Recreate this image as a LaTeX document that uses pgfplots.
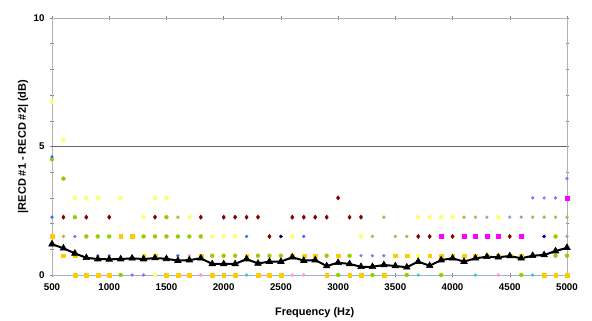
\documentclass[border=0pt]{standalone}
\usepackage{fontspec}
\setmainfont{Liberation Sans}
\usepackage{pgfplots}
\pgfplotsset{compat=1.18}
\definecolor{ltyel}{HTML}{FFFF66}
\definecolor{gold}{HTML}{FFCC00}
\definecolor{lime}{HTML}{99CC00}
\definecolor{maroon}{HTML}{800000}
\definecolor{mag}{HTML}{FF00FF}
\definecolor{peri}{HTML}{9966FF}
\definecolor{blu}{HTML}{3366FF}
\definecolor{pnk}{HTML}{FF99CC}
\definecolor{cyn}{HTML}{33CCCC}
\definecolor{oliv}{HTML}{B3B34D}
\definecolor{gblue}{HTML}{9999CC}
\definecolor{zeroline}{HTML}{9DB0CC}
\pgfplotsset{dots/.style={only marks, draw=none, fill=#1, mark options={draw=#1, fill=#1, line width=0.3bp, solid}}}
\begin{document}
\begin{tikzpicture}
\path[use as bounding box] (-52bp,-46bp) rectangle (540bp,275bp);
\begin{axis}[
  scale only axis, width=515bp, height=257bp,
  xmin=500, xmax=5000, ymin=0, ymax=10,
  xtick={500,1000,...,5000}, ytick={0,5,10},
  minor ytick={1,2,3,4,6,7,8,9},
  tick align=center, major tick length=4bp, minor tick length=3bp,
  tick style={black!50, line width=0.5bp},
  axis line style={draw=black!30, line width=0.8bp},
  x tick label style={/pgf/number format/1000 sep={}},
  /pgf/number format/assume math mode=true,
  ticklabel style={font=\fontsize{9.8}{11}\selectfont\bfseries, text=black},
  xticklabel style={yshift=-3bp},
  yticklabel style={xshift=-2bp},
  xlabel={\textbf{Frequency (Hz)}}, ylabel={\textbf{|RECD \#1 - RECD \#2| (dB)}},
  every axis y label/.style={at={(axis description cs:-0.056,0.5)}, rotate=90, anchor=center, font=\fontsize{11}{13}\selectfont\bfseries},
  every axis x label/.style={at={(axis description cs:0.51,-0.148)}, anchor=center, font=\fontsize{11}{13}\selectfont\bfseries},
  clip=false,
]
\draw[black!60, line width=0.8bp] (axis cs:500,5) -- (axis cs:5000,5);
\draw[zeroline, line width=1bp] (axis cs:500,0) -- (axis cs:5000,0);
% light yellow
\addplot[dots=ltyel, mark=*, mark size=2bp] coordinates {
(500,6.75) (600,5.25) (700,3) (800,3) (900,3) (1100,3) (1400,3) (1500,3)
(1300,2.25) (1700,2.25) (1900,1.5) (2000,1.5) (2100,1.5) (2600,1.5) (3200,1.5)
(3700,2.25) (3800,2.25) (3900,2.25) (4000,2.25) (4400,2.25) (1400,0) (3700,0.75)};
% olive
\addplot[dots=oliv, mark=*, mark size=1.6bp] coordinates {
(1600,2.25) (3400,2.25) (4100,2.25) (4200,2.25) (4700,2.25) (4800,2.25) (4900,2.25) (5000,2.25)
(3300,1.5) (3500,1.5) (3600,1.5) (600,1.5)};
% grey-blue
\addplot[dots=gblue, mark=*, mark size=1.5bp] coordinates {
(4300,2.25) (4500,2.25) (4600,2.25) (5000,1.5)};
% gold
\addplot[dots=gold, mark=square*, mark size=1.9bp] coordinates {
(500,1.5) (1100,1.5) (1200,1.5)
(600,0.75) (700,0.75) (1300,0.75) (1400,0.75) (1800,0.75) (2200,0.75) (2600,0.75) (2700,0.75) (2800,0.75)
(3000,0.75) (3500,0.75) (3600,0.75) (3800,0.75) (3900,0.75) (4000,0.75) (4100,0.75) (4200,0.75)
(4300,0.75) (4400,0.75) (4500,0.75) (4600,0.75) (4700,0.75)
(700,0) (800,0) (900,0) (1000,0) (1500,0) (1600,0) (1700,0) (1900,0) (2000,0) (2100,0)
(2300,0) (2400,0) (2500,0) (2900,0) (3100,0) (3200,0) (3400,0) (4800,0) (4900,0) (5000,0)};
% lime green
\addplot[dots=lime, mark=*, mark size=2bp] coordinates {
(500,4.5) (600,3.75) (700,2.25) (1500,2.25)
(800,1.5) (900,1.5) (1000,1.5) (1300,1.5) (1400,1.5) (1500,1.5) (1600,1.5) (1700,1.5) (1800,1.5)
(1900,0.75) (2000,0.75) (2100,0.75) (2300,0.75) (2400,0.75) (2500,0.75) (2900,0.75) (3100,0.75)
(4900,0.75) (5000,0.75) (4900,1.5)
(1100,0) (3000,0) (3300,0) (3600,0) (3900,0) (4600,0)};
% maroon
\addplot[dots=maroon, mark=diamond*, mark size=2.3bp] coordinates {
(600,2.25) (800,2.25) (1000,2.25) (1400,2.25) (1800,2.25) (2000,2.25) (2100,2.25) (2200,2.25)
(2300,2.25) (2600,2.25) (2700,2.25) (2800,2.25) (2900,2.25) (3100,2.25) (3200,2.25)
(3000,3) (2400,1.5) (3700,1.5) (3800,1.5) (4000,1.5) (4500,1.5)};
% magenta
\addplot[dots=mag, mark=square*, mark size=1.9bp] coordinates {
(3900,1.5) (4100,1.5) (4200,1.5) (4300,1.5) (4400,1.5) (4600,1.5) (5000,3)};
% periwinkle
\addplot[dots=peri, mark=*, mark size=1.5bp] coordinates {
(700,1.5) (3200,0.75) (3300,0.75) (3400,0.75) (900,0.75) (1000,0.75) (1200,0) (1300,0)
(4700,3) (4800,3) (4900,3) (5000,3.75)};
% blue
\addplot[dots=blu, mark=*, mark size=1.5bp] coordinates {
(500,2.25) (2200,1.5) (2700,1.5) (1600,0.75) (500,4.6)};
\addplot[dots=blue!50!black, mark=*, mark size=1.7bp] coordinates {
(2500,1.5) (4800,1.5)};
% pink
\addplot[dots=pnk, mark=*, mark size=1.6bp] coordinates {
(1700,0.75) (1800,0) (2600,0) (2700,0) (4400,0)};
% cyan
\addplot[dots=cyn, mark=*, mark size=1.5bp] coordinates {
(2200,0) (3700,0) (4200,0) (4700,0)};
% mean
\addplot[black, line width=2bp, mark=triangle*, mark size=3.8bp, mark options={fill=black, line width=0.6bp, solid}] coordinates {
(500,1.20) (600,1.04) (700,0.84) (800,0.67) (900,0.62) (1000,0.61) (1100,0.62) (1200,0.65)
(1300,0.62) (1400,0.66) (1500,0.63) (1600,0.56) (1700,0.58) (1800,0.65) (1900,0.43) (2000,0.43)
(2100,0.43) (2200,0.62) (2300,0.45) (2400,0.52) (2500,0.52) (2600,0.69) (2700,0.56) (2800,0.58)
(2900,0.35) (3000,0.48) (3100,0.43) (3200,0.32) (3300,0.32) (3400,0.39) (3500,0.35) (3600,0.30)
(3700,0.52) (3800,0.36) (3900,0.58) (4000,0.65) (4100,0.52) (4200,0.65) (4300,0.71) (4400,0.69)
(4500,0.74) (4600,0.65) (4700,0.75) (4800,0.78) (4900,0.93) (5000,1.06)};
\end{axis}
\end{tikzpicture}
\end{document}
